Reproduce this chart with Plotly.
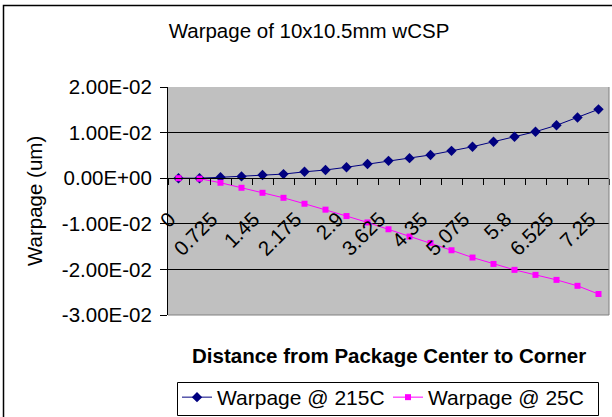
import plotly.graph_objects as go

# Distance from package center to corner (category positions)
distance = [0, 0.3625, 0.725, 1.0875, 1.45, 1.8125, 2.175, 2.5375, 2.9, 3.2625,
            3.625, 3.9875, 4.35, 4.7125, 5.075, 5.4375, 5.8, 6.1625, 6.525, 6.8875, 7.25]

# Warpage values (um)
warp_215c = [0.0, 0.0, 0.0002, 0.0004, 0.0007, 0.0009, 0.0014, 0.0018, 0.0024, 0.0031,
             0.0038, 0.0044, 0.0051, 0.0060, 0.0069, 0.0080, 0.0091, 0.0102, 0.0116, 0.0133, 0.0151]
warp_25c = [0.0, -0.0001, -0.0010, -0.0021, -0.0032, -0.0043, -0.0056, -0.0069, -0.0083, -0.0097,
            -0.0112, -0.0128, -0.0142, -0.0158, -0.0174, -0.0188, -0.0201, -0.0212, -0.0223, -0.0236, -0.0254]

# Category labels shown on the axis (every second category)
x_tick_vals = [0, 0.725, 1.45, 2.175, 2.9, 3.625, 4.35, 5.075, 5.8, 6.525, 7.25]
x_tick_text = ["0", "0.725", "1.45", "2.175", "2.9", "3.625", "4.35", "5.075", "5.8", "6.525", "7.25"]

y_tick_vals = [-0.03, -0.02, -0.01, 0.0, 0.01, 0.02]
y_tick_text = [f"{v:.2E}" for v in y_tick_vals]

W, H = 612, 417
L, R, T, B = 168, 3, 87, 102
plot_w = W - L - R
plot_h = H - T - B
y_lo, y_hi = -0.03, 0.02
step = distance[1] - distance[0]

def px_x(px):
    return (px - L) / plot_w

def px_y(py):
    return (H - B - py) / plot_h

FONT = "Liberation Sans, Arial, sans-serif"
FS = 20.5

fig = go.Figure()
fig.add_trace(go.Scatter(
    x=distance, y=warp_215c, name="Warpage @ 215C", mode="lines+markers",
    line=dict(color="#000080", width=1),
    marker=dict(symbol="diamond", size=8, color="#000080"),
))
fig.add_trace(go.Scatter(
    x=distance, y=warp_25c, name="Warpage @ 25C", mode="lines+markers",
    line=dict(color="#FF00FF", width=1),
    marker=dict(symbol="square", size=6, color="#FF00FF"),
))

fig.update_layout(
    width=W, height=H,
    margin=dict(l=L, r=R, t=T, b=B, pad=0, autoexpand=False),
    paper_bgcolor="white",
    plot_bgcolor="#C0C0C0",
    font=dict(family=FONT, size=FS, color="black"),
    title=dict(text="Warpage of 10x10.5mm wCSP", x=309 / W, xref="container",
               xanchor="center", y=1 - 31 / H, yref="container", yanchor="middle",
               font=dict(size=20.5)),
    showlegend=True,
    legend=dict(orientation="h", x=px_x(177), y=px_y(377), xanchor="left", yanchor="top",
                borderwidth=0, bgcolor="rgba(0,0,0,0)",
                font=dict(size=21), itemwidth=30, tracegroupgap=0,
                entrywidth=166, entrywidthmode="pixels"),
    xaxis=dict(
        range=[distance[0] - step / 2, distance[-1] + step / 2],
        anchor="free", position=(0 - y_lo) / (y_hi - y_lo),
        showgrid=False, zeroline=False,
        showline=True, linecolor="black", linewidth=1,
        tickmode="array", tickvals=x_tick_vals, ticktext=x_tick_text,
        ticks="", tickangle=-45, ticklabelstandoff=20, ticklabelshift=-9,
        tickfont=dict(size=FS),
        minor=dict(ticks="outside", ticklen=6, tickcolor="black", tickwidth=1,
                   tickmode="linear", tick0=distance[0] + step / 2, dtick=step,
                   showgrid=False),
    ),
    yaxis=dict(
        range=[y_lo, y_hi],
        tickmode="array", tickvals=y_tick_vals, ticktext=y_tick_text,
        ticks="outside", ticklen=7, tickcolor="black", tickwidth=1,
        showgrid=True, gridcolor="black", gridwidth=1,
        zeroline=False, showline=True, linecolor="black", linewidth=1,
        tickfont=dict(size=FS), ticklabelstandoff=4,
    ),
    shapes=[
        # outer chart frame
        dict(type="rect", xref="paper", yref="paper",
             x0=px_x(3.5), y0=px_y(430), x1=px_x(625), y1=px_y(5.5),
             line=dict(color="black", width=1.5), fillcolor="rgba(0,0,0,0)", layer="above"),
        # plot area right and bottom edges
        dict(type="line", xref="paper", yref="paper", x0=1, x1=1, y0=0, y1=1,
             line=dict(color="#808080", width=1), layer="above"),
        dict(type="line", xref="paper", yref="paper", x0=0, x1=1, y0=0, y1=0,
             line=dict(color="#808080", width=1), layer="above"),
        # legend frame
        dict(type="rect", xref="paper", yref="paper",
             x0=px_x(177.5), y0=px_y(415.5), x1=px_x(598.5), y1=px_y(382.5),
             line=dict(color="black", width=1), fillcolor="white", layer="above"),
    ],
    annotations=[
        dict(text="<b>Distance from Package Center to Corner</b>", xref="paper", yref="paper",
             x=0.5, y=px_y(355), xanchor="center", yanchor="middle", showarrow=False,
             font=dict(size=20.5)),
        dict(text="Warpage (um)", xref="paper", yref="paper", x=px_x(34), y=0.5,
             xanchor="center", yanchor="middle", textangle=-90, showarrow=False,
             font=dict(size=FS)),
    ],
)

fig.write_html("out.html")
